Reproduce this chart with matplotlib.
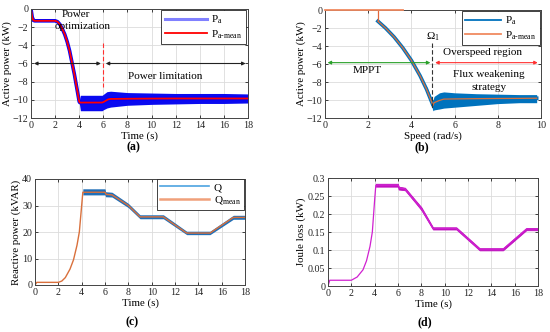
import matplotlib
matplotlib.use("Agg")
import matplotlib.pyplot as plt
from matplotlib.lines import Line2D

plt.rcParams['font.family'] = ['Liberation Serif', 'DejaVu Serif']
plt.rcParams['mathtext.fontset'] = 'custom'
plt.rcParams['mathtext.rm'] = 'Liberation Serif'
plt.rcParams['mathtext.it'] = 'Liberation Serif:italic'

# ---------------- data (a) ----------------
t_a = [0, 0.1, 0.2, 0.3, 2.0, 2.2, 2.4, 2.6, 2.8, 3.0, 3.2, 3.4, 3.6, 3.8, 4.0, 4.05,
       5.9, 6.0, 6.2, 6.4, 6.6, 8, 10, 12, 14, 16, 18]
pmean_a = [0, -0.9, -1.25, -1.3, -1.3, -1.4, -1.7, -2.2, -2.8, -3.6, -4.6, -5.9, -7.2,
           -8.7, -10.2, -10.3, -10.3, -10.25, -10.1, -9.95, -9.9, -9.88, -9.86, -9.85,
           -9.85, -9.85, -9.85]
t_band_a = [4.0, 4.1, 5.9, 6.0, 6.3, 6.6, 8, 10, 12, 14, 16, 18]
upper_a = [-10.2, -9.5, -9.5, -9.4, -9.1, -9.05, -9.2, -9.25, -9.3, -9.3, -9.3, -9.35]
lower_a = [-10.3, -11.2, -11.2, -11.1, -10.9, -10.8, -10.6, -10.5, -10.45, -10.4, -10.4, -10.35]

# ---------------- data (b) ----------------
speed_b = [2.45, 2.8, 3.2, 3.6, 4.0, 4.4, 4.7, 4.9, 5.0, 5.05, 5.3, 5.5, 6, 7, 8, 9, 9.8]
pmean_b = [-1.25, -2.0, -3.0, -4.2, -5.6, -7.3, -8.8, -10.0, -10.6, -10.3, -10.05, -9.9,
           -9.88, -9.85, -9.83, -9.82, -9.8]
top_speed_b = [0, 3.6]
top_mean_b = [0, 0]
drop_speed_b = [2.45, 2.45]
drop_mean_b = [0, -1.25]
s_band_b = [4.7, 4.9, 5.0, 5.05, 5.3, 5.5, 6, 7, 8, 9, 9.8]
upper_b = [-8.5, -9.6, -10.0, -9.6, -9.2, -9.1, -9.2, -9.3, -9.35, -9.4, -9.4]
lower_b = [-9.1, -10.4, -11.2, -11.1, -11.0, -10.9, -10.8, -10.6, -10.4, -10.3, -10.3]

# ---------------- data (c) ----------------
t_c = [0, 0.15, 2.0, 2.3, 2.6, 3.0, 3.3, 3.6, 3.8, 4.0, 4.1, 6.0, 6.1, 6.6, 8.0, 9.0,
       11.0, 13.0, 15.0, 17.0, 18.0]
q_c = [0, 1, 1, 1.5, 2.8, 6, 9.5, 15, 20, 30, 35, 35, 34.2, 34, 30, 25.7, 25.7, 19.6,
       19.6, 25.5, 25.5]
t_band_c = [4.1, 6.0, 6.05, 6.6, 8.0, 9.0, 11.0, 13.0, 15.0, 17.0, 18.0]
upper_c = [36.3, 36.3, 35.2, 35.0, 30.8, 26.5, 26.5, 20.3, 20.3, 26.3, 26.3]
lower_c = [34.0, 34.0, 33.3, 33.2, 29.2, 25.0, 25.0, 19.0, 19.0, 24.8, 24.8]

# ---------------- data (d) ----------------
t_d = [0, 0.15, 2.0, 2.5, 3.0, 3.3, 3.6, 3.8, 4.0, 4.1, 6.0, 6.15, 6.6, 7.5, 8.0, 9.0,
       11.0, 13.0, 15.0, 17.0, 18.0]
j_d = [0, 0.016, 0.016, 0.025, 0.045, 0.07, 0.11, 0.15, 0.24, 0.28, 0.28, 0.272, 0.27,
       0.235, 0.215, 0.16, 0.16, 0.102, 0.102, 0.158, 0.158]
t_band_d = [4.1, 6.0, 6.05, 6.6, 7.5, 8.0, 9.0, 11.0, 13.0, 15.0, 17.0, 18.0]
upper_d = [0.284, 0.284, 0.276, 0.273, 0.238, 0.219, 0.163, 0.163, 0.105, 0.105, 0.161, 0.161]
lower_d = [0.276, 0.276, 0.268, 0.266, 0.231, 0.211, 0.157, 0.157, 0.099, 0.099, 0.155, 0.155]

W, H = 550, 332
fig = plt.figure(figsize=(W / 100, H / 100), dpi=100)


def px_axes(l, t, r, b):
    return fig.add_axes([l / W, (H - b) / H, (r - l) / W, (b - t) / H])


def style(ax):
    ax.grid(True, color='#dcdcdc', lw=0.6)
    ax.set_axisbelow(True)
    for s in ax.spines.values():
        s.set_color('#444444')
        s.set_linewidth(0.7)
    ax.tick_params(direction='in', length=2, width=0.6, labelsize=7.2,
                   top=True, right=True, colors='#222222', pad=2)


LBL = 7.8
ANN = 8.0
CAP = 8.5

# ---------- (a) ----------
axa = px_axes(31, 9, 248, 118)
style(axa)
axa.plot(t_a, pmean_a, color='#0000ff', lw=2.6)
axa.fill_between(t_band_a, lower_a, upper_a, color='#0a0af0', lw=0)
axa.plot(t_a, pmean_a, color='#ff0000', lw=1.3)
axa.set_xlim(0, 18)
axa.set_ylim(-12, 0)
axa.set_xticks(range(0, 19, 2))
axa.set_yticks(range(-12, 1, 2))
axa.set_xlabel('Time (s)', fontsize=LBL, labelpad=1)
axa.set_ylabel('Active power (kW)', fontsize=LBL, labelpad=0)
axa.plot([6, 6], [-3.7, -8.6], color='#ff3030', lw=0.8, ls=(0, (4, 2)))
arr = dict(arrowstyle='<|-|>', color='#222222', lw=0.8, mutation_scale=5,
           shrinkA=0, shrinkB=0)
axa.annotate('', xy=(0.25, -6), xytext=(5.8, -6), arrowprops=arr)
axa.annotate('', xy=(6.2, -6), xytext=(17.8, -6), arrowprops=arr)
axa.text(2.55, -0.6, 'Power', fontsize=ANN, va='center', ha='left')
axa.text(1.95, -1.9, 'optimization', fontsize=ANN, va='center', ha='left')
axa.text(11.1, -7.4, 'Power limitation', fontsize=ANN, va='center', ha='center')
ha = [Line2D([], [], color='#8080ff', lw=2.2), Line2D([], [], color='#ff0000', lw=1.3)]
leg = axa.legend(ha, [r'P$_{\rm a}$', r'P$_{\rm a\text{-}mean}$'], loc='upper right',
                 bbox_to_anchor=(0.99, 0.99), borderaxespad=0, fontsize=ANN,
                 fancybox=False, framealpha=1, handlelength=3.8, handletextpad=0.4,
                 borderpad=0.3, labelspacing=0.2)
leg.get_frame().set_edgecolor('#222222')
leg.get_frame().set_linewidth(0.6)

# ---------- (b) ----------
axb = px_axes(325, 10, 541, 118)
style(axb)
axb.plot(speed_b, pmean_b, color='#0072bd', lw=2.6)
axb.fill_between(s_band_b, lower_b, upper_b, color='#0072bd', lw=0)
axb.plot(top_speed_b, top_mean_b, color='#f08a60', lw=1.3, clip_on=False, zorder=5)
axb.plot(drop_speed_b, drop_mean_b, color='#e0663a', lw=0.9)
axb.plot(speed_b, pmean_b, color='#d9703c', lw=0.9)
axb.set_xlim(0, 10)
axb.set_ylim(-12, 0)
axb.set_xticks(range(0, 11, 2))
axb.set_yticks(range(-12, 1, 2))
axb.set_xlabel('Speed (rad/s)', fontsize=LBL, labelpad=1)
axb.set_ylabel('Active power (kW)', fontsize=LBL, labelpad=0)
axb.plot([4.95, 4.95], [-3.7, -11.0], color='#333333', lw=0.8, ls=(0, (4, 2)))
axb.text(5.0, -3.0, r'$\Omega_1$', fontsize=ANN, ha='center', va='center')
arrg = dict(arrowstyle='<|-|>', color='#2aa02a', lw=0.8, mutation_scale=5,
            shrinkA=0, shrinkB=0)
arrr = dict(arrowstyle='<|-|>', color='#ff3030', lw=0.8, mutation_scale=5,
            shrinkA=0, shrinkB=0)
axb.annotate('', xy=(0.12, -5.85), xytext=(4.88, -5.85), arrowprops=arrg)
axb.annotate('', xy=(5.1, -5.85), xytext=(9.85, -5.85), arrowprops=arrr)
axb.text(1.95, -6.7, 'MPPT', fontsize=ANN, ha='center', va='center')
axb.text(7.3, -4.75, 'Overspeed region', fontsize=ANN, ha='center', va='center')
axb.text(7.6, -7.2, 'Flux weakening', fontsize=ANN, ha='center', va='center')
axb.text(7.6, -8.65, 'strategy', fontsize=ANN, ha='center', va='center')
hb = [Line2D([], [], color='#0072bd', lw=1.3), Line2D([], [], color='#f08a60', lw=1.3)]
leg = axb.legend(hb, [r'P$_{\rm a}$', r'P$_{\rm a\text{-}mean}$'], loc='upper right',
                 bbox_to_anchor=(0.995, 0.99), borderaxespad=0, fontsize=ANN,
                 fancybox=False, framealpha=1, handlelength=3.2, handletextpad=0.4,
                 borderpad=0.3, labelspacing=0.2)
leg.get_frame().set_edgecolor('#222222')
leg.get_frame().set_linewidth(0.6)

# ---------- (c) ----------
axc = px_axes(35, 179, 245, 285)
style(axc)
axc.fill_between(t_band_c, lower_c, upper_c, color='#1f6fb8', lw=0)
axc.plot(t_c, q_c, color='#d9703c', lw=1.0)
axc.set_xlim(0, 18)
axc.set_ylim(0, 40)
axc.set_xticks(range(0, 19, 2))
axc.set_yticks(range(0, 41, 10))
axc.set_xlabel('Time (s)', fontsize=LBL, labelpad=1)
axc.set_ylabel('Reactive power (kVAR)', fontsize=LBL, labelpad=1)
hc = [Line2D([], [], color='#4da3e0', lw=1.2), Line2D([], [], color='#f0a07a', lw=1.8)]
leg = axc.legend(hc, [r'Q', r'Q$_{\rm mean}$'], loc='upper right',
                 bbox_to_anchor=(0.995, 1.0), borderaxespad=0, fontsize=ANN,
                 fancybox=False, framealpha=1, handlelength=4.4, handletextpad=0.4,
                 borderpad=0.3, labelspacing=0.2)
leg.get_frame().set_edgecolor('#222222')
leg.get_frame().set_linewidth(0.6)

# ---------- (d) ----------
axd = px_axes(328, 178, 538, 286)
style(axd)
axd.plot(t_d, j_d, color='#d020d0', lw=0.9)
axd.fill_between(t_band_d, lower_d, upper_d, color='#c010c0', lw=0.6, edgecolor='#c010c0')
axd.set_xlim(0, 18)
axd.set_ylim(0, 0.3)
axd.set_xticks(range(0, 19, 2))
axd.set_yticks([0, 0.05, 0.1, 0.15, 0.2, 0.25, 0.3])
axd.set_yticklabels(['0', '0.05', '0.1', '0.15', '0.2', '0.25', '0.3'])
axd.set_xlabel('Time (s)', fontsize=LBL, labelpad=1)
axd.set_ylabel('Joule loss (kW)', fontsize=LBL, labelpad=1)

# captions
for x, y, s in [(133, 147, '(a)'), (422, 147, '(b)'), (132, 322, '(c)'), (425, 322, '(d)')]:
    fig.text(x / W, (H - y) / H, s, fontsize=CAP, fontweight='bold', ha='center', va='center')

fig.savefig('out.png', dpi=100)
